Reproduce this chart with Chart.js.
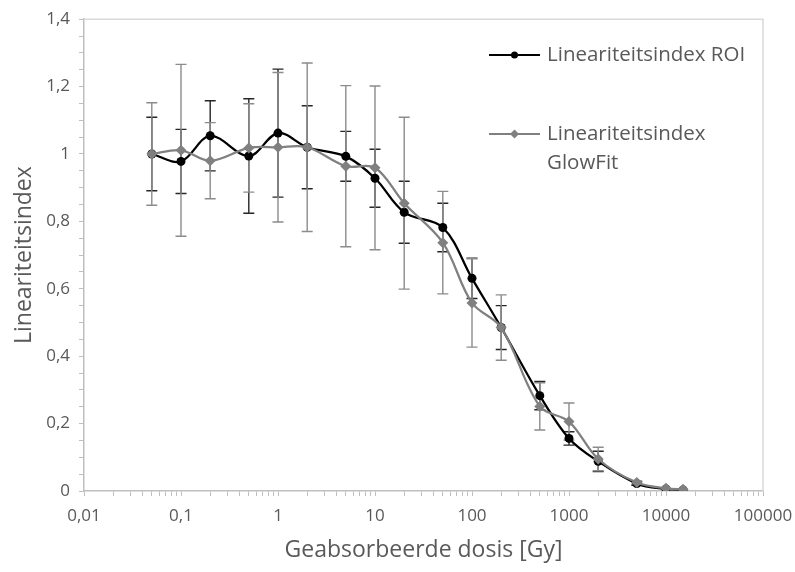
<!DOCTYPE html>
<html lang="nl">
<head>
	<meta charset="UTF-8">
	<title>Lineariteitsindex</title>
	<script src="https://cdn.jsdelivr.net/npm/chart.js@4.4.0/dist/chart.umd.min.js"></script>
	<style>
		body { margin: 0; background: #fff; }
	</style>
</head>
<body>
	<canvas id="myChart" width="795" height="572"></canvas>
<script>
	// dosis [Gy]
	const dose = [0.05, 0.1, 0.2, 0.5, 1, 2, 5, 10, 20, 50, 100, 200, 500, 1000, 2000, 5000, 10000, 15000];

	const roi = [1.0, 0.978, 1.054, 0.994, 1.062, 1.02, 0.993, 0.928, 0.827, 0.782, 0.631, 0.485, 0.283, 0.156, 0.088, 0.022, 0.006, 0.003];
	const roiErr = [0.109, 0.095, 0.104, 0.17, 0.19, 0.123, 0.074, 0.086, 0.092, 0.072, 0.06, 0.065, 0.042, 0.02, 0.03, 0.005, 0, 0];

	const glowfit = [1.0, 1.011, 0.98, 1.018, 1.02, 1.02, 0.964, 0.959, 0.854, 0.737, 0.558, 0.485, 0.251, 0.206, 0.095, 0.025, 0.008, 0.005];
	const glowfitErr = [0.152, 0.255, 0.113, 0.131, 0.222, 0.25, 0.239, 0.243, 0.255, 0.152, 0.131, 0.097, 0.07, 0.055, 0.035, 0.005, 0, 0];

	const xTicks = [0.01, 0.1, 1, 10, 100, 1000, 10000, 100000];
	const xTickLabels = ['0,01', '0,1', '1', '10', '100', '1000', '10000', '100000'];
	const yTicks = [0, 0.2, 0.4, 0.6, 0.8, 1, 1.2, 1.4];
	const yTickLabels = ['0', '0,2', '0,4', '0,6', '0,8', '1', '1,2', '1,4'];

	const FONT = '"Open Sans", sans-serif';
	const AXIS = '#bfbfbf';
	const TXT = '#595959';

	function pts(vals) {
		return dose.map((d, i) => ({ x: d, y: vals[i] }));
	}

	// error bars, drawn under the lines
	const errorBars = {
		id: 'errorBars',
		beforeDatasetsDraw(chart) {
			const ctx = chart.ctx;
			const yScale = chart.scales.y;
			chart.data.datasets.forEach((ds, di) => {
				const meta = chart.getDatasetMeta(di);
				ctx.save();
				ctx.strokeStyle = ds.errColor;
				ctx.lineWidth = 1.4;
				meta.data.forEach((pt, i) => {
					const e = ds.errors[i];
					if (!e) return;
					const v = ds.data[i].y;
					const top = yScale.getPixelForValue(v + e);
					const bot = yScale.getPixelForValue(v - e);
					ctx.beginPath();
					ctx.moveTo(pt.x, top); ctx.lineTo(pt.x, bot);
					ctx.moveTo(pt.x - 5.5, top); ctx.lineTo(pt.x + 5.5, top);
					ctx.moveTo(pt.x - 5.5, bot); ctx.lineTo(pt.x + 5.5, bot);
					ctx.stroke();
				});
				ctx.restore();
			});
		}
	};

	// plot frame + legend inside the plot area
	const frameLegend = {
		id: 'frameLegend',
		afterDraw(chart) {
			const ctx = chart.ctx;
			const a = chart.chartArea;
			ctx.save();
			ctx.strokeStyle = '#d9d9d9';
			ctx.lineWidth = 1.5;
			ctx.beginPath();
			ctx.moveTo(a.left, a.top); ctx.lineTo(a.right, a.top); ctx.lineTo(a.right, a.bottom);
			ctx.stroke();

			const items = [
				{ y: 55, lines: ['Lineariteitsindex ROI'], color: '#000000', style: 'circle' },
				{ y: 134, lines: ['Lineariteitsindex', 'GlowFit'], color: '#808080', style: 'diamond' }
			];
			items.forEach(it => {
				ctx.strokeStyle = it.color;
				ctx.fillStyle = it.color;
				ctx.lineWidth = 2;
				ctx.beginPath();
				ctx.moveTo(489, it.y); ctx.lineTo(540, it.y);
				ctx.stroke();
				ctx.beginPath();
				if (it.style === 'circle') {
					ctx.arc(514.5, it.y, 3.5, 0, Math.PI * 2);
				} else {
					ctx.moveTo(514.5, it.y - 4.5); ctx.lineTo(519, it.y);
					ctx.lineTo(514.5, it.y + 4.5); ctx.lineTo(510, it.y);
					ctx.closePath();
				}
				ctx.fill();
				ctx.fillStyle = TXT;
				ctx.font = '20.5px ' + FONT;
				ctx.textBaseline = 'middle';
				ctx.textAlign = 'left';
				it.lines.forEach((l, k) => ctx.fillText(l, 547, it.y + k * 29));
			});
			ctx.restore();
		}
	};

	const ctx = document.getElementById('myChart').getContext('2d');
	const myChart = new Chart(ctx, {
		type: 'line',
		data: {
			datasets: [
				{
					label: 'Lineariteitsindex ROI',
					data: pts(roi),
					errors: roiErr,
					errColor: '#262626',
					borderColor: '#000000',
					backgroundColor: '#000000',
					borderWidth: 2.25,
					pointStyle: 'circle',
					pointRadius: 4.5,
					pointBorderWidth: 0,
					tension: 0.35,
					order: 2
				},
				{
					label: 'Lineariteitsindex GlowFit',
					data: pts(glowfit),
					errors: glowfitErr,
					errColor: '#8c8c8c',
					borderColor: '#808080',
					backgroundColor: '#808080',
					borderWidth: 2.25,
					pointStyle: 'rectRot',
					pointRadius: 5.5,
					pointBorderWidth: 0,
					tension: 0.35,
					order: 1
				}
			]
		},
		options: {
			responsive: false,
			animation: false,
			layout: { padding: { top: 16, right: 32, left: 0, bottom: 0 } },
			plugins: {
				legend: { display: false },
				tooltip: { enabled: false }
			},
			scales: {
				x: {
					type: 'logarithmic',
					min: 0.01,
					max: 100000,
					afterBuildTicks(scale) {
						const t = [];
						xTicks.forEach((d, i) => {
							t.push({ value: d, major: true });
							if (i < xTicks.length - 1) {
								for (let m = 2; m <= 9; m++) t.push({ value: d * m });
							}
						});
						scale.ticks = t;
					},
					afterFit(scale) {
						scale.height = 81;
						scale.paddingRight = 20;
					},
					ticks: {
						autoSkip: false,
						maxRotation: 0,
						padding: 10,
						color: TXT,
						font: { family: FONT, size: 17 },
						callback(v) {
							const i = xTicks.findIndex(d => Math.abs(d - v) / d < 1e-6);
							return i >= 0 ? xTickLabels[i] : '';
						}
					},
					grid: { drawOnChartArea: false, drawTicks: true, tickLength: 5, color: AXIS },
					border: { color: AXIS, width: 1.5 },
					title: {
						display: true,
						text: 'Geabsorbeerde dosis [Gy]',
						color: TXT,
						font: { family: FONT, size: 23 },
						padding: { top: 0, bottom: 8 }
					}
				},
				y: {
					min: 0,
					max: 1.4,
					afterBuildTicks(scale) {
						const t = [];
						for (let k = 0; k <= 28; k++) t.push({ value: k * 0.05 });
						scale.ticks = t;
					},
					afterFit(scale) { scale.width = 84; },
					ticks: {
						autoSkip: false,
						padding: 9,
						color: TXT,
						font: { family: FONT, size: 17 },
						callback(v) {
							const i = yTicks.findIndex(d => Math.abs(d - v) < 1e-6);
							return i >= 0 ? yTickLabels[i] : '';
						}
					},
					grid: { drawOnChartArea: false, drawTicks: true, tickLength: 5, color: AXIS },
					border: { color: AXIS, width: 1.5 },
					title: {
						display: true,
						text: 'Lineariteitsindex',
						color: TXT,
						font: { family: FONT, size: 23 },
						padding: { top: 11, bottom: 0 }
					}
				}
			}
		},
		plugins: [errorBars, frameLegend]
	});
</script>
</body>
</html>
